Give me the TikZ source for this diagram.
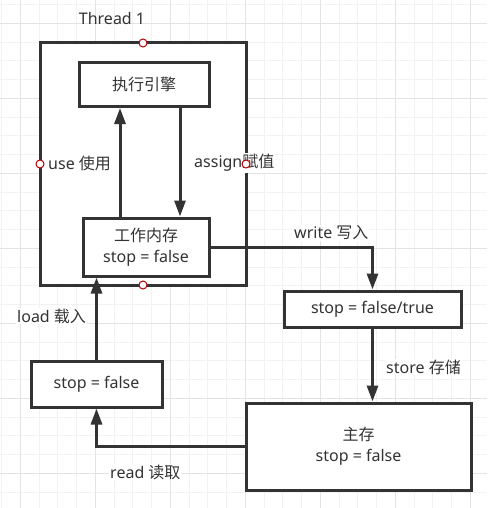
\documentclass[tikz,border=0pt]{standalone}
\usepackage{fontspec}
\setmainfont{Noto Sans}
\newfontfamily\cjk{Noto Sans CJK SC}
\usetikzlibrary{arrows.meta,positioning}

\definecolor{linegray}{HTML}{333333}
\definecolor{textgray}{HTML}{333333}
\definecolor{portred}{HTML}{B20000}
\definecolor{gridminor}{HTML}{F2F2F2}
\definecolor{gridmajor}{HTML}{E3E3E3}

\begin{document}
\begin{tikzpicture}[x=1pt, y=-1pt,
    box/.style={rectangle, draw=linegray, line width=3pt, fill=white, align=center, text=textgray, font=\fontsize{16}{21}\selectfont, inner sep=0pt},
    edgelabel/.style={anchor=west, fill=white, inner sep=1pt, text=textgray, font=\fontsize{16}{19}\selectfont},
    arrow/.style={-{Triangle[width=11pt,length=16pt]}, line width=3pt, draw=linegray},
    port/.style={circle, draw=portred, fill=white, line width=1pt, inner sep=0pt, minimum size=8pt}
]

% Background grid
\useasboundingbox (0,0) rectangle (487,508);
\fill[white] (0,0) rectangle (487,508);
\foreach \gx in {1.55,20.3,...,487} \draw[gridminor, line width=1pt] (\gx,0) -- (\gx,508);
\foreach \gy in {4.6,23.35,...,508} \draw[gridminor, line width=1pt] (0,\gy) -- (487,\gy);
\foreach \gx in {20.3,95.3,...,487} \draw[gridmajor, line width=1pt] (\gx,0) -- (\gx,508);
\foreach \gy in {23.35,98.35,...,508} \draw[gridmajor, line width=1pt] (0,\gy) -- (487,\gy);

% Thread container
\node[box, minimum width=206pt, minimum height=242pt, outer sep=0pt] (thread) at (143,164) {};
\node[text=textgray, font=\fontsize{16}{19}\selectfont] (threadlbl) at (112,19) {Thread 1};

% Boxes
\node[box, minimum width=130pt, minimum height=44pt] (engine) at (144,84.5) {{\cjk 执行引擎}};
\node[box, minimum width=126pt, minimum height=58pt] (workmem) at (146,247) {{\cjk 工作内存}\\stop = false};
\node[box, minimum width=177pt, minimum height=36pt] (buffer) at (372.5,309) {stop = false/true};
\node[box, minimum width=131pt, minimum height=46pt] (loaded) at (96.5,384) {stop = false};
\node[box, minimum width=225pt, minimum height=87pt] (mainmem) at (358.5,446.5) {{\cjk 主存}\\stop = false};

% Arrows
\draw[arrow] ([xshift=-26pt]workmem.north) -- ([xshift=-24pt]engine.south);
\draw[arrow] ([xshift=36pt]engine.south) -- ([xshift=34pt]workmem.north);
\draw[arrow] (workmem.east) -| (buffer.north);
\draw[arrow] (buffer.south) -- (buffer.south |- mainmem.north);
\draw[arrow] (mainmem.west) -| (loaded.south);
\draw[arrow] (loaded.north) -- (loaded.north |- workmem.south);

% Labels
\node[edgelabel] (uselbl) at (47,163) {use {\cjk 使用}};
\node[edgelabel] (assignlbl) at (193,163) {assign{\cjk 赋值}};
\node[edgelabel] (writelbl) at (293,233) {write {\cjk 写入}};
\node[edgelabel] (storelbl) at (385,367) {store {\cjk 存储}};
\node[edgelabel] (loadlbl) at (16,316) {load {\cjk 载入}};
\node[edgelabel] (readlbl) at (109,472) {read {\cjk 读取}};

% Connection points
\node[port] (pn) at (thread.north) {};
\node[port] (pw) at (thread.west) {};
\node[port] (pe) at (thread.east) {};
\node[port] (ps) at (thread.south) {};

\end{tikzpicture}
\end{document}
